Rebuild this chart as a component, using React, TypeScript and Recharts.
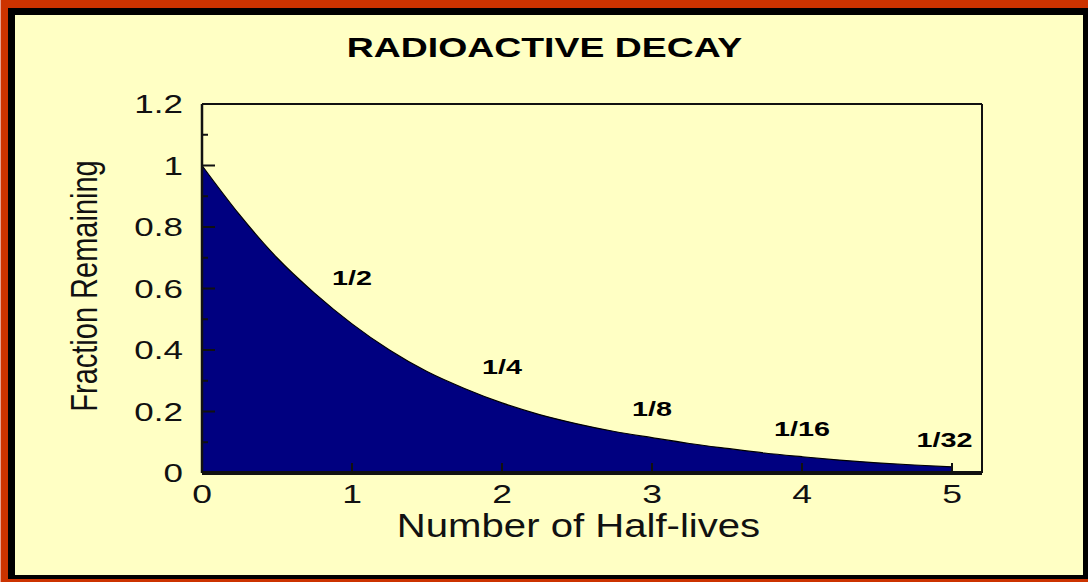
import React from 'react'
import { ComposedChart, Area, Scatter, XAxis, YAxis, ReferenceLine } from 'recharts'

// values
const halfLives = [0, 0.25, 0.5, 0.75, 1, 1.25, 1.5, 1.75, 2, 2.25, 2.5, 2.75, 3, 3.25, 3.5, 3.75, 4, 4.25, 4.5, 4.75, 5]
const fraction = [1.0, 0.84, 0.7, 0.585, 0.485, 0.4, 0.33, 0.275, 0.228, 0.19, 0.16, 0.135, 0.115, 0.096, 0.08, 0.065, 0.053, 0.042, 0.033, 0.026, 0.02]

const xTicks = [0, 1, 2, 3, 4, 5]
const yTicks = [0, 0.1, 0.2, 0.3, 0.4, 0.5, 0.6, 0.7, 0.8, 0.9, 1, 1.1, 1.2]

const markX = [1, 2, 3, 4, 4.95]
const markY = [0.635, 0.346, 0.209, 0.144, 0.109]
const markText = ['1/2', '1/4', '1/8', '1/16', '1/32']

const data = halfLives.map((x, i) => ({ x, frac: fraction[i] }))
const marks = markX.map((x, i) => ({ x, y: markY[i], text: markText[i] }))

const FONT = '"Liberation Sans", Arial, sans-serif'
const INK = '#111'

const XTick = ({ x, y, payload }: any) => (
  <g>
    <line x1={x} y1={y} x2={x} y2={y - 10} stroke={INK} strokeWidth={2} />
    <text transform={`translate(${x},${y + 30}) scale(1.42,1)`} textAnchor="middle" fontSize={25} fontFamily={FONT} fill={INK}>
      {payload.value}
    </text>
  </g>
)

const YTick = ({ x, y, payload }: any) => {
  const v = payload.value
  const major = Math.round(v * 10) % 2 === 0
  return (
    <g>
      <line x1={x} y1={y} x2={x + (major ? 13 : 6)} y2={y} stroke={INK} strokeWidth={2} />
      {major && (
        <text transform={`translate(${x - 19},${y + 9}) scale(1.4,1)`} textAnchor="end" fontSize={25} fontFamily={FONT} fill={INK}>
          {String(v)}
        </text>
      )}
    </g>
  )
}

const MarkLabel = (p: any) => (
  <text transform={`translate(${p.cx},${p.cy + 7.5}) scale(1.37,1)`} textAnchor="middle" fontSize={21} fontWeight="bold" fontFamily={FONT} fill="#000">
    {p.payload.text}
  </text>
)

export default function App() {
  return (
    <div style={{ position: 'absolute', left: 0, top: 0, width: 1088, height: 582, background: '#cc3300', overflow: 'hidden' }}>
      <div style={{ position: 'absolute', left: 0, top: 0, width: 1, height: 582, background: '#e8a090' }} />
      <div style={{ position: 'absolute', left: 8, top: 8, width: 1080, height: 571, background: '#000' }} />
      <div style={{ position: 'absolute', left: 15, top: 15, width: 1068, height: 560, background: '#ffffc4' }} />
      <div style={{ position: 'absolute', left: 0, top: 0 }}>
        <ComposedChart width={1088} height={582} data={data} margin={{ top: 104, right: 106, bottom: 79, left: 142 }}>
          <XAxis
            dataKey="x"
            type="number"
            domain={[0, 5.2]}
            ticks={xTicks}
            interval={0}
            height={30}
            tickSize={0}
            tickMargin={0}
            tickLine={false}
            axisLine={{ stroke: INK, strokeWidth: 4 }}
            tick={<XTick />}
          />
          <YAxis
            type="number"
            domain={[0, 1.2]}
            ticks={yTicks}
            interval={0}
            width={60}
            tickSize={0}
            tickMargin={0}
            tickLine={false}
            axisLine={{ stroke: INK, strokeWidth: 2.5 }}
            tick={<YTick />}
          />
          <Area
            dataKey="frac"
            type="monotone"
            fill="#000080"
            fillOpacity={1}
            stroke="#000"
            strokeWidth={1.2}
            dot={false}
            activeDot={false}
            isAnimationActive={false}
          />
          <ReferenceLine y={1.2} stroke={INK} strokeWidth={2} />
          <ReferenceLine x={5.2} stroke={INK} strokeWidth={2} />
          <Scatter data={marks} dataKey="y" shape={<MarkLabel />} isAnimationActive={false} />
        </ComposedChart>
      </div>
      <svg width={1088} height={582} style={{ position: 'absolute', left: 0, top: 0, pointerEvents: 'none' }}>
        <text transform="translate(544.5,56.7) scale(1.336,1)" textAnchor="middle" fontSize={28} fontWeight="bold" fontFamily={FONT} fill="#000">
          RADIOACTIVE DECAY
        </text>
        <text transform="translate(578.5,537) scale(1.18,1)" textAnchor="middle" fontSize={34} fontFamily={FONT} fill={INK}>
          Number of Half-lives
        </text>
        <text transform="translate(97,286) scale(1.3,1) rotate(-90)" textAnchor="middle" fontSize={29} fontFamily={FONT} fill={INK}>
          Fraction Remaining
        </text>
      </svg>
    </div>
  )
}
